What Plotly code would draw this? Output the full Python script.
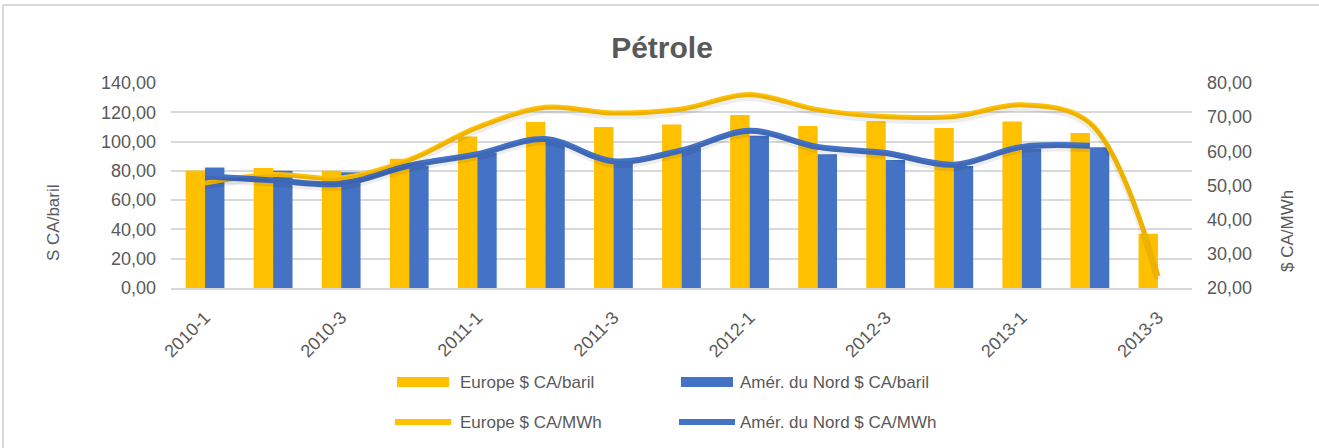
import plotly.graph_objects as go

# Quarterly periods and the labels shown on the category axis
periods = [
    "2010-1", "2010-2", "2010-3", "2010-4",
    "2011-1", "2011-2", "2011-3", "2011-4",
    "2012-1", "2012-2", "2012-3", "2012-4",
    "2013-1", "2013-2", "2013-3",
]
tick_labels = ["2010-1", "2010-3", "2011-1", "2011-3",
               "2012-1", "2012-3", "2013-1", "2013-3"]

# Crude price, $ CA per barrel (left axis)
europe_baril = [80.2, 82.0, 80.0, 88.2, 103.4, 113.4, 110.0, 111.6,
                118.2, 110.7, 113.9, 109.3, 113.7, 105.9, 37.0]
amer_baril = [82.3, 80.0, 79.1, 83.5, 92.5, 101.0, 86.4, 96.2,
              104.0, 91.4, 87.5, 83.4, 95.5, 96.2, None]

# Equivalent energy price, $ CA per MWh (right axis)
europe_mwh = [50.7, 53.2, 52.2, 57.5, 67.0, 72.9, 71.2, 72.4,
              76.6, 72.2, 70.2, 70.2, 73.6, 68.3, 23.5]
amer_mwh = [52.7, 51.5, 50.5, 55.8, 59.2, 63.6, 57.1, 60.3,
            66.0, 61.3, 59.5, 56.1, 61.3, 61.6]

YELLOW = "#FFC000"
BLUE = "#4472C4"
GRID = "#D9D9D9"
TEXT = "#595959"
SHADOW = "rgba(0,0,0,0.07)"
FONT = "Liberation Sans, Arial, sans-serif"

W, H = 1319, 448
M_L, M_R, M_T, M_B = 171, 127, 83, 160
PW = W - M_L - M_R
PH = H - M_T - M_B

MWH_RANGE = [20, 80]
# soft drop shadow under the lines: same data on a hidden axis nudged ~3 px down
shadow_shift = 3 * (MWH_RANGE[1] - MWH_RANGE[0]) / PH


def px_x(px):
    """Pixel column -> paper x."""
    return (px - M_L) / PW


def px_y(py):
    """Pixel row -> paper y."""
    return (H - M_B - py) / PH


fig = go.Figure()

fig.add_trace(go.Bar(x=periods, y=europe_baril, name="Europe $ CA/baril",
                     marker=dict(color=YELLOW, line=dict(width=0)),
                     yaxis="y"))
fig.add_trace(go.Bar(x=periods, y=amer_baril, name="Amér. du Nord $ CA/baril",
                     marker=dict(color=BLUE, line=dict(width=0)),
                     yaxis="y"))

for series, xs in ((europe_mwh, periods), (amer_mwh, periods[:len(amer_mwh)])):
    fig.add_trace(go.Scatter(x=xs, y=series, mode="lines", yaxis="y3",
                             hoverinfo="skip", showlegend=False,
                             line=dict(color=SHADOW, width=7, shape="spline",
                                       smoothing=1)))

fig.add_trace(go.Scatter(x=periods, y=europe_mwh, name="Europe $ CA/MWh",
                         mode="lines", yaxis="y2",
                         line=dict(color=YELLOW, width=5, shape="spline",
                                   smoothing=1)))
fig.add_trace(go.Scatter(x=periods[:len(amer_mwh)], y=amer_mwh,
                         name="Amér. du Nord $ CA/MWh",
                         mode="lines", yaxis="y2",
                         line=dict(color=BLUE, width=6, shape="spline",
                                   smoothing=1)))

# Legend: two rows, two columns, drawn as shapes + labels
legend_rows = [
    [("bar", YELLOW, "Europe $ CA/baril"), ("bar", BLUE, "Amér. du Nord $ CA/baril")],
    [("line", YELLOW, "Europe $ CA/MWh"), ("line", BLUE, "Amér. du Nord $ CA/MWh")],
]
row_y = [382, 422]
col_sym = [(397, 449), (681, 733)]
col_txt = [458, 738]

shapes = []
annotations = []
for r, row in enumerate(legend_rows):
    for c, (kind, color, label) in enumerate(row):
        x0, x1 = col_sym[c]
        yc = row_y[r]
        if kind == "bar":
            shapes.append(dict(type="rect", xref="paper", yref="paper",
                               x0=px_x(x0), x1=px_x(x1),
                               y0=px_y(yc + 5), y1=px_y(yc - 5),
                               fillcolor=color, line=dict(width=0)))
        else:
            shapes.append(dict(type="line", xref="paper", yref="paper",
                               x0=px_x(x0 - 2), x1=px_x(x1 + 2),
                               y0=px_y(yc), y1=px_y(yc),
                               line=dict(color=color, width=6)))
        annotations.append(dict(text=label, xref="paper", yref="paper",
                                x=px_x(col_txt[c]), y=px_y(yc),
                                xanchor="left", yanchor="middle",
                                showarrow=False,
                                font=dict(family=FONT, size=17, color=TEXT)))

# Axis titles
annotations.append(dict(text="S CA/baril", xref="paper", yref="paper",
                        x=px_x(53), y=px_y(223), textangle=-90,
                        xanchor="center", yanchor="middle", showarrow=False,
                        font=dict(family=FONT, size=17, color=TEXT)))
annotations.append(dict(text="$ CA/MWh", xref="paper", yref="paper",
                        x=px_x(1287), y=px_y(231), textangle=-90,
                        xanchor="center", yanchor="middle", showarrow=False,
                        font=dict(family=FONT, size=17, color=TEXT)))

# Chart frame (top and left edges)
shapes.append(dict(type="line", xref="paper", yref="paper",
                   x0=px_x(3), x1=px_x(W + 5), y0=px_y(5), y1=px_y(5),
                   line=dict(color=GRID, width=2)))
shapes.append(dict(type="line", xref="paper", yref="paper",
                   x0=px_x(3), x1=px_x(3), y0=px_y(5), y1=px_y(H + 5),
                   line=dict(color=GRID, width=2)))

fig.update_layout(
    width=W, height=H,
    margin=dict(l=M_L, r=M_R, t=M_T, b=M_B, pad=0),
    paper_bgcolor="white", plot_bgcolor="white",
    separators=", ",
    showlegend=False,
    barmode="group", bargap=0.43, bargroupgap=0,
    title=dict(text="<b>Pétrole</b>", x=662 / W, y=1 - 47 / H,
               xref="container", yref="container",
               xanchor="center", yanchor="middle",
               font=dict(family=FONT, size=30, color=TEXT)),
    font=dict(family=FONT, size=18, color=TEXT),
    xaxis=dict(type="category", categoryorder="array", categoryarray=periods,
               tickmode="array", tickvals=tick_labels, ticktext=tick_labels,
               tickangle=-45, ticks="", ticklabelstandoff=10,
               showgrid=False, zeroline=False,
               showline=True, linecolor=GRID, linewidth=2,
               tickfont=dict(family=FONT, size=18, color=TEXT)),
    yaxis=dict(range=[0, 140], dtick=20, tickformat=".2f",
               showgrid=True, gridcolor=GRID, gridwidth=1.5,
               zeroline=False, showline=False, ticks="",
               ticklabelstandoff=14,
               tickfont=dict(family=FONT, size=18, color=TEXT)),
    yaxis2=dict(range=MWH_RANGE, dtick=10, tickformat=".2f",
                overlaying="y", side="right",
                showgrid=False, zeroline=False, showline=False, ticks="",
                ticklabelstandoff=14,
                tickfont=dict(family=FONT, size=18, color=TEXT)),
    yaxis3=dict(range=[MWH_RANGE[0] + shadow_shift, MWH_RANGE[1] + shadow_shift],
                overlaying="y", visible=False),
    shapes=shapes,
    annotations=annotations,
)

fig.write_html("out.html")
